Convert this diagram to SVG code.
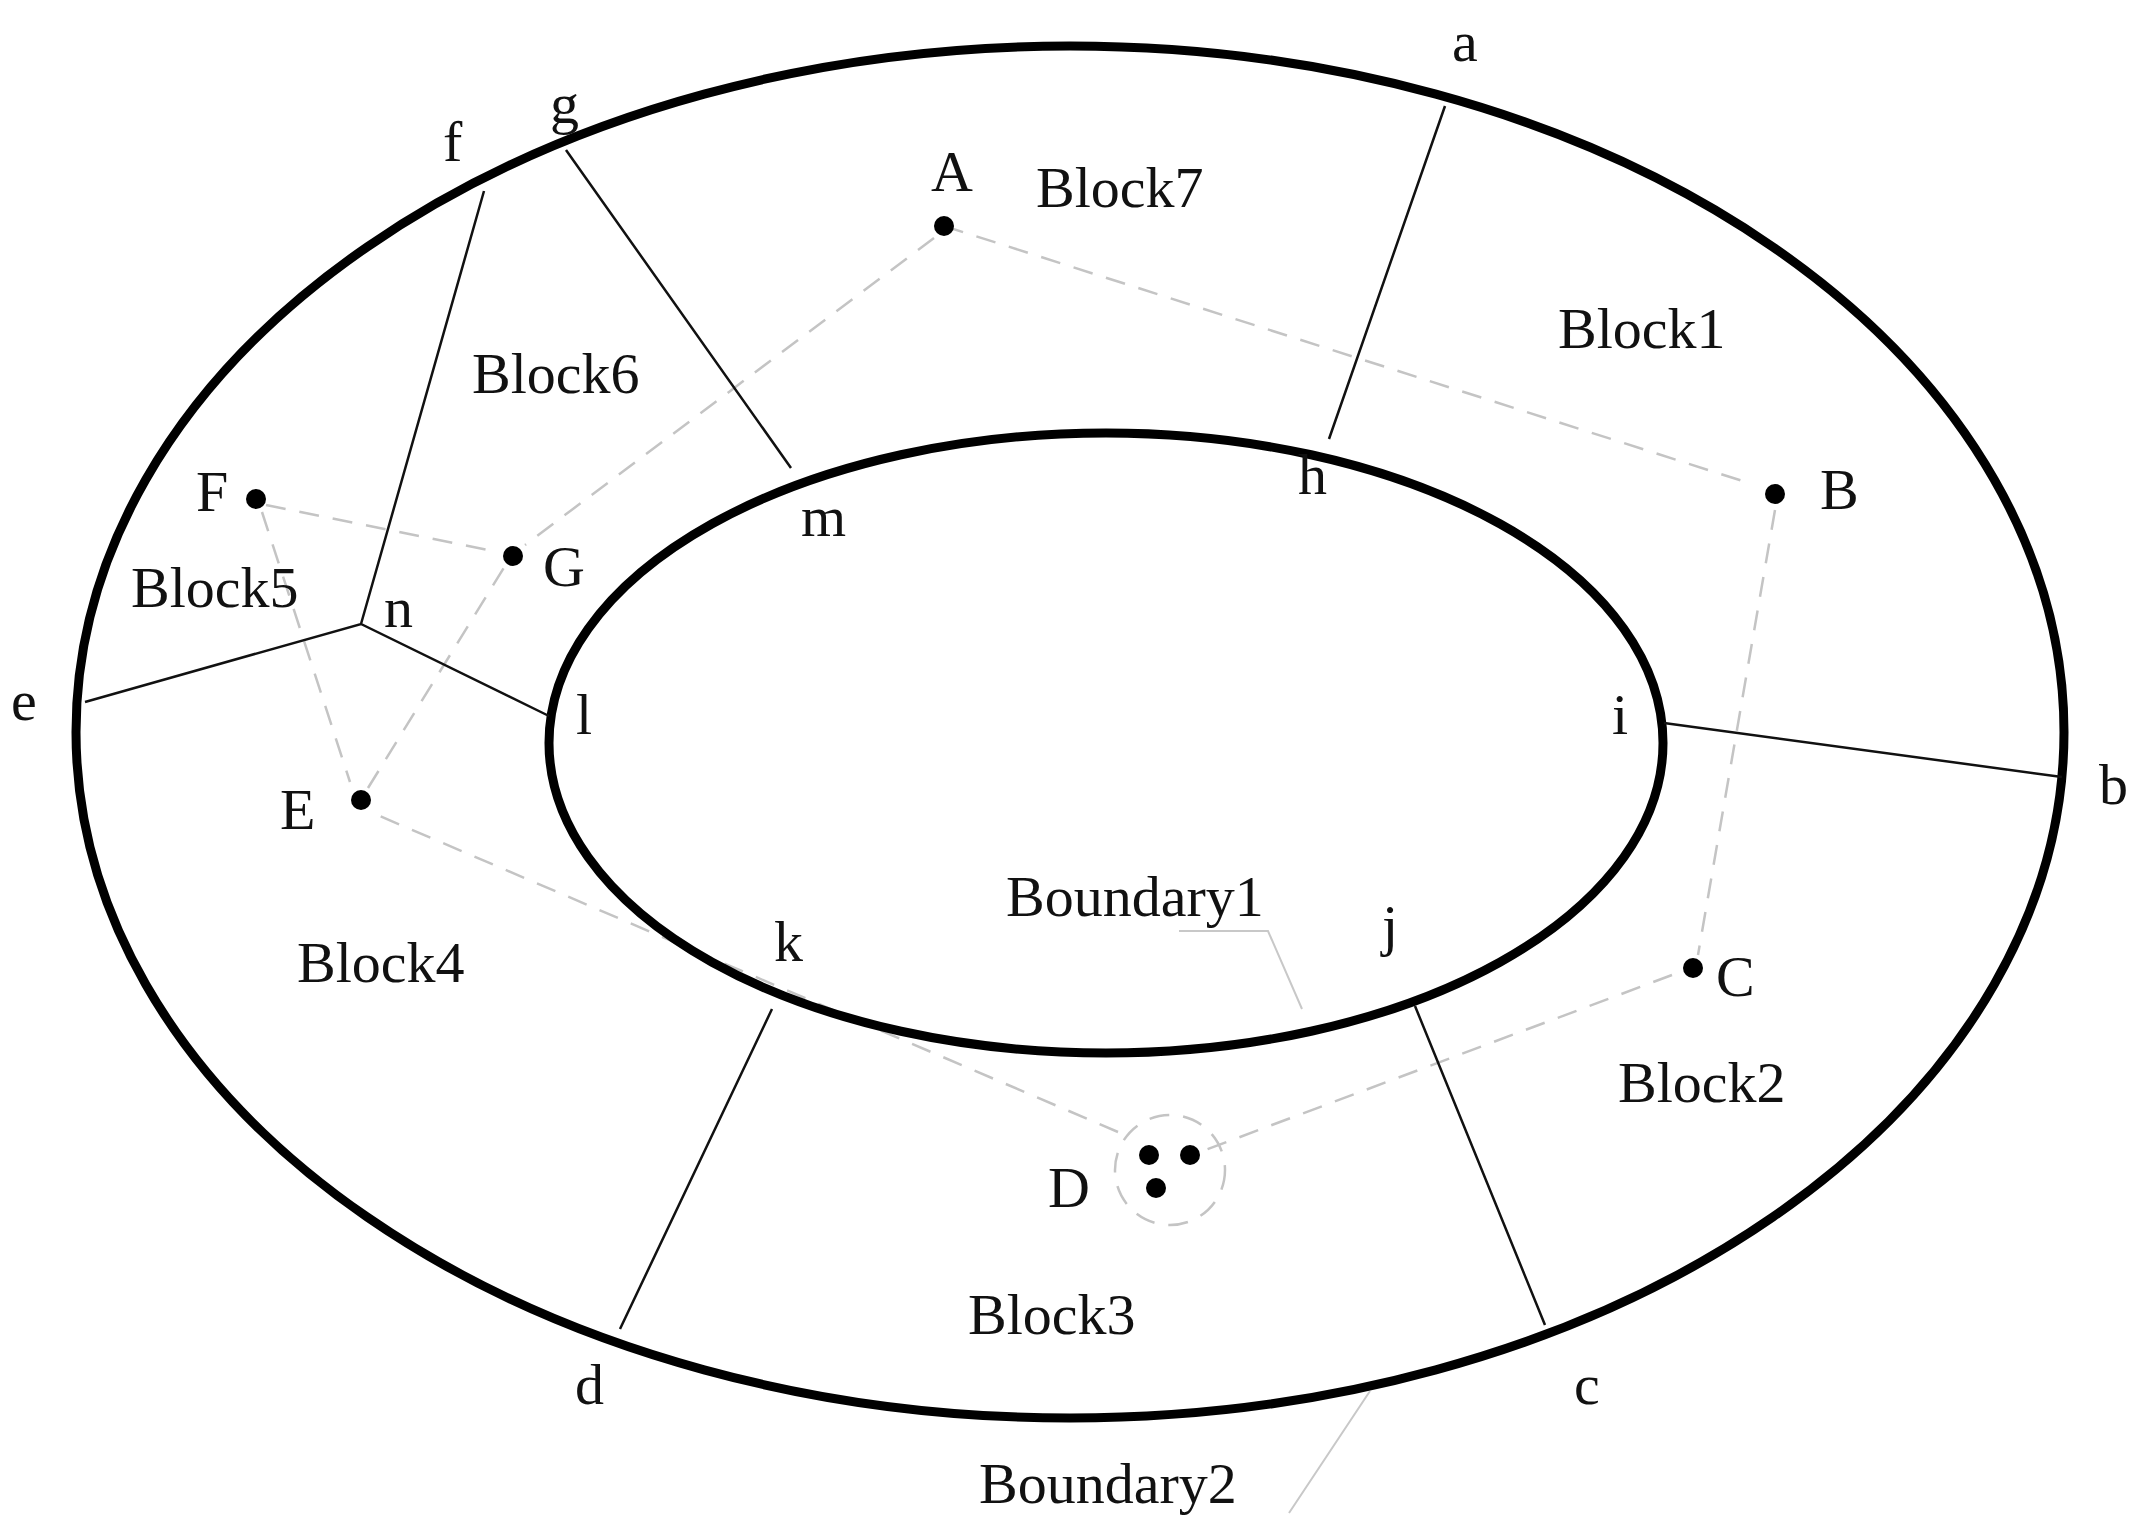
<svg xmlns="http://www.w3.org/2000/svg" width="2138" height="1534" viewBox="0 0 2138 1534">
<style>
text{font-family:"Liberation Serif","Times New Roman",serif;font-size:58px;fill:#111}
.b{fill:none;stroke:#000;stroke-width:9}
.l{stroke:#111;stroke-width:2.5;fill:none}
.d{stroke:#c4c4c4;stroke-width:2.5;stroke-dasharray:20 14;fill:none}
.g{stroke:#c8c8c8;stroke-width:2;fill:none}
.p{fill:#000}
</style>
<rect width="2138" height="1534" fill="#fff"/>
<g id="connectors">
<path class="d" d="M944,226 L1752,484 M1775,510 L1698,955 M1672,975 L1200,1152 M1118,1132 L368,811 M368,788 L505,566 M934,238 L525,545 M266,505 L498,552 M262,512 L350,782"/>
<circle class="d" cx="1170" cy="1170" r="55"/>
<path class="g" d="M1179,931 L1268,931 L1302,1009 M1370,1391 L1289,1513"/>
</g>
<g id="boundary2"><ellipse class="b" cx="1070" cy="732" rx="994" ry="686"/><text x="979" y="1503">Boundary2</text></g>
<g id="boundary1"><ellipse class="b" cx="1106" cy="743" rx="557" ry="310"/><text x="1006" y="916">Boundary1</text></g>
<g id="edges">
<path class="l" d="M1445,106 L1329,439 M1664,723 L2062,777 M1415,1006 L1545,1325 M772,1009 L620,1329 M85,702 L361,624 L549,716 M361,624 L484,191 M566,150 L791,468"/>
</g>
<g id="vertex-labels">
<text x="1452" y="61">a</text><text x="2099" y="804">b</text><text x="1574" y="1404">c</text><text x="575" y="1404">d</text>
<text x="11" y="720">e</text><text x="443" y="161">f</text><text x="550" y="123">g</text><text x="1298" y="494">h</text>
<text x="1612" y="734">i</text><text x="1382" y="945">j</text><text x="774" y="961">k</text><text x="576" y="734">l</text>
<text x="801" y="536">m</text><text x="384" y="627">n</text>
</g>
<g id="block1"><text x="1558" y="348">Block1</text></g>
<g id="block2"><text x="1618" y="1102">Block2</text></g>
<g id="block3"><text x="968" y="1334">Block3</text></g>
<g id="block4"><text x="297" y="982">Block4</text></g>
<g id="block5"><text x="131" y="607">Block5</text></g>
<g id="block6"><text x="472" y="393">Block6</text></g>
<g id="block7"><text x="1036" y="207">Block7</text></g>
<g id="pointA"><circle class="p" cx="944" cy="226" r="10"/><text x="931" y="191">A</text></g>
<g id="pointB"><circle class="p" cx="1775" cy="494" r="10"/><text x="1820" y="509">B</text></g>
<g id="pointC"><circle class="p" cx="1693" cy="968" r="10"/><text x="1716" y="996">C</text></g>
<g id="pointD"><circle class="p" cx="1149" cy="1155" r="10"/><circle class="p" cx="1190" cy="1155" r="10"/><circle class="p" cx="1156" cy="1188" r="10"/><text x="1048" y="1207">D</text></g>
<g id="pointE"><circle class="p" cx="361" cy="800" r="10"/><text x="280" y="829">E</text></g>
<g id="pointF"><circle class="p" cx="256" cy="499" r="10"/><text x="196" y="511">F</text></g>
<g id="pointG"><circle class="p" cx="513" cy="556" r="10"/><text x="543" y="586">G</text></g>
</svg>
